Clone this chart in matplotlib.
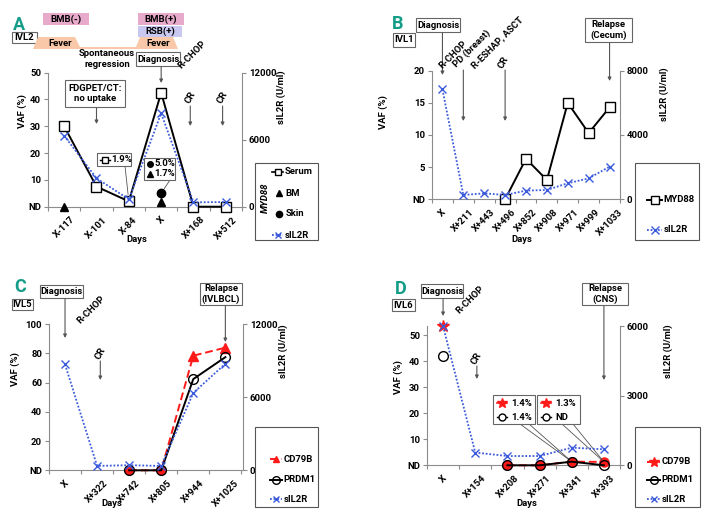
import numpy as np
import matplotlib
matplotlib.use('Agg')
import matplotlib.pyplot as plt
from matplotlib.transforms import Affine2D, blended_transform_factory
from matplotlib.lines import Line2D
from matplotlib.patches import Rectangle, Polygon

W, H = 707, 514
FS = 6.8
plt.rcParams['font.family'] = ['Roboto', 'DejaVu Sans']
plt.rcParams['font.weight'] = 'bold'
plt.rcParams['font.size'] = FS

nan = np.nan
# ---------------- data ----------------
# Panel A (IVL2)
a_days = ['X-117', 'X-101', 'X-84', 'X', 'X+168', 'X+512']
a_serum = [30, 7.5, 2.0, 42.5, 0, 0]
a_bm = [0, nan, nan, 1.7, nan, nan]
a_skin = [nan, nan, nan, 5.0, nan, nan]
a_sil2r = [6360, 2550, 660, 8360, 390, 420]
# Panel B (IVL1)
b_days = ['X', 'X+211', 'X+443', 'X+496', 'X+852', 'X+908', 'X+971', 'X+999', 'X+1033']
b_myd88 = [nan, nan, nan, 0, 6.3, 3.0, 15.0, 10.3, 14.3]
b_sil2r = [6840, 270, 370, 270, 540, 580, 1000, 1300, 2030]
# Panel C (IVL5)
c_days = ['X', 'X+322', 'X+742', 'X+805', 'X+944', 'X+1025']
c_cd79b = [nan, nan, 0, 0, 78.5, 84]
c_prdm1 = [nan, nan, 0, 0, 62.5, 77.5]
c_sil2r = [8700, 360, 420, 360, 6360, 8760]
# Panel D (IVL6)
d_days = ['X', 'X+154', 'X+208', 'X+271', 'X+341', 'X+393']
d_cd79b = [53.5, nan, 0, 0, 1.4, 1.3]
d_prdm1 = [42, nan, 0, 0, 1.4, 0]
d_sil2r = [6000, 550, 400, 400, 760, 690]

# ---------------- styles ----------------
BLUE = '#3b5bdb'
RED = '#ff1a1a'
GRAY = '#8c8c8c'
TEAL = '#149c88'
S_BLACK = dict(color='k', lw=1.4, marker='s', ms=7, mfc='white', mec='k', mew=1.0)
S_BM = dict(color='k', ls='none', marker='^', ms=6)
S_SKIN = dict(color='k', ls='none', marker='o', ms=6)
S_SIL = dict(color=BLUE, lw=1.3, ls=(0, (1, 1)), marker='x', ms=6, mew=1.0)
S_PRDM = dict(color='k', lw=1.4, marker='o', ms=7, mfc='none', mec='k', mew=1.0)
S_CD = dict(color=RED, lw=1.4, ls=(0, (4, 2)))

fig = plt.figure(figsize=(W / 100, H / 100), dpi=100)
pix = Affine2D().scale(1 / W, -1 / H).translate(0, 1) + fig.transFigure


def axes_px(x0, y0, x1, y1):
    return fig.add_axes([x0 / W, 1 - y1 / H, (x1 - x0) / W, (y1 - y0) / H])


def ftxt(x, y, s, **kw):
    kw.setdefault('ha', 'center')
    kw.setdefault('va', 'center')
    kw.setdefault('fontweight', 'bold')
    return fig.text(x, y, s, transform=pix, **kw)


def frect(x0, y0, x1, y1, fc='white', ec='#666666', lw=0.8):
    r = Rectangle((x0, y0), x1 - x0, y1 - y0, transform=pix, fc=fc, ec=ec, lw=lw)
    fig.add_artist(r)
    return r


def fbox(x0, y0, x1, y1, s, **kw):
    frect(x0, y0, x1, y1)
    ftxt((x0 + x1) / 2, (y0 + y1) / 2, s, linespacing=1.2, **kw)


def farrow(ax, cat, y0, y1):
    tr = blended_transform_factory(ax.transData, pix)
    ax.annotate('', xy=(cat, y1), xycoords=tr, xytext=(cat, y0), textcoords=tr,
                arrowprops=dict(arrowstyle='-|>', color='#555555', lw=0.8,
                                mutation_scale=5, shrinkA=0, shrinkB=0),
                annotation_clip=False)


def fmarker(x, y, style, hl=10):
    st = dict(style)
    if st.get('ls', '-') != 'none':
        fig.add_artist(Line2D([x - hl / 2, x + hl / 2], [y, y], transform=pix,
                              color=st['color'], lw=st.get('lw', 1), ls=st.get('ls', '-')))
    mk = dict(marker=st.get('marker', 'o'), ms=st.get('ms', 6), mew=st.get('mew', 1),
              mfc=st.get('mfc', st['color']), mec=st.get('mec', st['color']))
    fig.add_artist(Line2D([x], [y], transform=pix, ls='none', color=st['color'], **mk))


def leg_entry(x, y, style, label, hl=12):
    fmarker(x + hl / 2, y, style, hl=hl)
    ftxt(x + hl + 1.5, y, label, ha='left')


def connector(ax, px, py, cat, val, shrinkB=4):
    ax.annotate('', xy=(cat, val), xycoords='data', xytext=(px, py), textcoords=pix,
                arrowprops=dict(arrowstyle='-', color='#555555', lw=0.6,
                                shrinkA=0, shrinkB=shrinkB),
                annotation_clip=False)


def setup(ax, days, xlim, ylim, yticks, rlim, rticks):
    ax2 = ax.twinx()
    n = len(days)
    for a in (ax, ax2):
        for s in a.spines.values():
            s.set_visible(False)
        a.set_facecolor('none')
    ax.spines['left'].set_visible(True)
    ax.spines['bottom'].set_visible(True)
    ax2.spines['right'].set_visible(True)
    for s in (ax.spines['left'], ax.spines['bottom'], ax2.spines['right']):
        s.set_color(GRAY)
        s.set_linewidth(0.8)
    ax.set_xlim(*xlim)
    ax.set_ylim(*ylim)
    ax2.set_ylim(*rlim)
    ax.set_yticks(yticks)
    ax.set_yticklabels(['ND'] + [str(v) for v in yticks[1:]], fontweight='bold')
    ax2.set_yticks(rticks)
    ax2.set_yticklabels([str(v) for v in rticks], fontweight='bold')
    ax.set_xticks(range(n))
    ax.set_xticklabels(days, rotation=45, ha='center', fontweight='bold')
    ax.set_xticks(np.arange(n + 1) - 0.5, minor=True)
    ax.tick_params(axis='x', which='major', length=0, pad=6, labelsize=FS)
    ax.tick_params(axis='x', which='minor', length=3, color=GRAY, width=0.8, direction='out')
    ax.tick_params(axis='y', length=3, color=GRAY, width=0.8, direction='out', pad=2, labelsize=FS)
    ax2.tick_params(axis='y', length=3, color=GRAY, width=0.8, direction='out', pad=2, labelsize=FS)
    return ax2


# ================= Panel A =================
axA = axes_px(48, 72.7, 242, 206.7)
axA2 = setup(axA, a_days, (-0.5, 5.5), (0, 50), [0, 10, 20, 30, 40, 50], (0, 12000), [0, 6000, 12000])
xa = np.arange(len(a_days))
axA.plot(xa, a_serum, clip_on=False, zorder=3, **S_BLACK)
axA.plot(xa, a_bm, clip_on=False, zorder=4, **S_BM)
axA.plot(xa, a_skin, clip_on=False, zorder=4, **S_SKIN)
axA2.plot(xa, a_sil2r, clip_on=False, **S_SIL)

ftxt(18.5, 24.5, 'A', color=TEAL, fontsize=13)
fbox(12, 32, 37, 43, 'IVL2')
frect(43, 13, 89, 25, fc='#e8aacb', ec='none')
ftxt(66, 19, 'BMB(-)')
frect(138, 13, 184, 25, fc='#e8aacb', ec='none')
ftxt(161, 19, 'BMB(+)')
frect(138, 26, 182, 37, fc='#c9c8f0', ec='none')
ftxt(160, 31.5, 'RSB(+)')
fig.add_artist(Polygon([(33, 49), (38, 37), (75, 37), (80, 47), (136, 47), (140, 37),
                        (173, 37), (178, 49)], closed=True, transform=pix,
                       fc='#f8c8a8', ec='none'))
ftxt(60, 44, 'Fever')
ftxt(158, 44, 'Fever')
ftxt(107, 59, 'Spontaneous\nregression', linespacing=1.25)
fbox(136, 52, 180, 66, 'Diagnosis')
farrow(axA, 3, 66, 83)
ftxt(192, 55, 'R-CHOP', rotation=45)
fbox(65, 80, 125, 107, 'FDGPET/CT:\nno uptake')
farrow(axA, 1, 107, 124)
for c in (4, 5):
    tr = blended_transform_factory(axA.transData, pix)
    axA.text(c - 0.1, 97, 'CR', rotation=60, ha='center', va='center', transform=tr,
             fontweight='bold')
    farrow(axA, c - 0.1, 106, 126)
# callouts
frect(97, 153, 131, 166)
fmarker(105, 159.5, dict(S_BLACK, ms=4, lw=1.0), hl=10)
ftxt(111, 159.5, '1.9%', ha='left')
connector(axA, 125, 166, 2, a_serum[2], shrinkB=5)
frect(144, 158, 175, 180)
fmarker(150, 164, dict(S_SKIN, ms=4))
ftxt(154, 164, '5.0%', ha='left')
fmarker(150, 174, dict(S_BM, ms=4))
ftxt(154, 174, '1.7%', ha='left')
connector(axA, 170, 180, 3, a_skin[3], shrinkB=4)
ftxt(22, 111, 'VAF (%)', rotation=90)
ftxt(281, 97, 'sIL2R (U/ml)', rotation=90)
ftxt(137, 239, 'Days')
frect(255, 163, 318, 240, ec='#555555')
ftxt(265, 198, 'MYD88', rotation=90, style='italic')
leg_entry(272, 172, dict(S_BLACK, ms=4.5, lw=1.2), 'Serum', hl=11)
leg_entry(273, 193, dict(S_BM, ms=4.5), 'BM', hl=11)
leg_entry(273, 214, dict(S_SKIN, ms=4.5), 'Skin', hl=11)
leg_entry(272, 235, dict(S_SIL, ms=4.5), 'sIL2R', hl=11)

# ================= Panel B =================
axB = axes_px(432, 70.7, 620, 199.3)
axB2 = setup(axB, b_days, (-0.25, 8.5), (0, 20), [0, 5, 10, 15, 20], (0, 8000), [0, 4000, 8000])
xb = np.arange(len(b_days))
axB.plot(xb, b_myd88, clip_on=False, zorder=3, **S_BLACK)
axB2.plot(xb, b_sil2r, clip_on=False, **S_SIL)

ftxt(397.5, 24, 'B', color=TEAL, fontsize=13)
fbox(393, 33, 415, 47, 'IVL1')
fbox(416, 18, 460, 32, 'Diagnosis')
farrow(axB, 0, 32, 75)
ftxt(453, 55, 'R-CHOP', rotation=45)
ftxt(472, 49, 'PD (breast)', rotation=45)
farrow(axB, 1, 70, 121)
ftxt(497, 43, 'R-ESHAP, ASCT', rotation=45)
ftxt(504, 62, 'CR', rotation=60)
farrow(axB, 3, 70, 121)
fbox(585, 18, 632, 42, 'Relapse\n(Cecum)')
farrow(axB, 8, 42, 81)
ftxt(383, 112, 'VAF (%)', rotation=90)
ftxt(664, 94, 'sIL2R (U/ml)', rotation=90)
ftxt(522, 240, 'Days')
frect(635, 163, 699, 240, ec='#555555')
leg_entry(647, 200, dict(S_BLACK, ms=5.5), 'MYD88', hl=15)
leg_entry(647, 230, dict(S_SIL, ms=5.5), 'sIL2R', hl=15)

# ================= Panel C =================
axC = axes_px(49, 324.3, 243, 470.3)
axC2 = setup(axC, c_days, (-0.4, 5.55), (0, 100), [0, 20, 40, 60, 80, 100], (0, 12000), [0, 6000, 12000])
xc = np.arange(len(c_days))
cd_c = np.array(c_cd79b, dtype=float)
axC.plot(xc, cd_c, clip_on=False, zorder=3, **S_CD)
axC.plot(xc[cd_c < 5], cd_c[cd_c < 5], ls='none', marker='o', ms=6.5, color=RED, clip_on=False, zorder=3)
axC.plot(xc[cd_c >= 5], cd_c[cd_c >= 5], ls='none', marker='^', ms=7, color=RED, clip_on=False, zorder=3)
axC.plot(xc, c_prdm1, clip_on=False, zorder=4, **S_PRDM)
axC2.plot(xc, c_sil2r, clip_on=False, **S_SIL)

ftxt(20.5, 287.5, 'C', color=TEAL, fontsize=13)
fbox(12, 299, 33, 310, 'IVL5')
fbox(40, 285, 83, 298, 'Diagnosis')
farrow(axC, 0, 298, 338)
ftxt(91.5, 310, 'R-CHOP', rotation=45)
trC = blended_transform_factory(axC.transData, pix)
axC.text(1.1, 353, 'CR', rotation=60, ha='center', va='center', transform=trC, fontweight='bold')
farrow(axC, 1.1, 361, 380)
fbox(200, 283, 242, 305, 'Relapse\n(IVLBCL)')
farrow(axC, 5, 305, 342)
ftxt(15, 369, 'VAF (%)', rotation=90)
ftxt(283, 351, 'sIL2R (U/ml)', rotation=90)
ftxt(112, 504, 'Days')
frect(255, 427, 318, 507, ec='#555555')
leg_entry(270, 459, dict(S_CD, marker='^', ms=5), 'CD79B', hl=12)
leg_entry(270, 480, dict(S_PRDM, ms=5.5), 'PRDM1', hl=12)
leg_entry(270, 499, dict(S_SIL, ms=5), 'sIL2R', hl=12)

# ================= Panel D =================
axD = axes_px(427, 326.3, 620, 465.3)
axD2 = setup(axD, d_days, (-0.5, 5.5), (0, 53.5), [0, 10, 20, 30, 40, 50], (0, 6000), [0, 3000, 6000])
xd = np.arange(len(d_days))
cd_d = np.array(d_cd79b, dtype=float)
axD.plot(xd, cd_d, clip_on=False, zorder=3, **S_CD)
axD.plot(xd[cd_d < 5], cd_d[cd_d < 5], ls='none', marker='o', ms=6.5, color=RED, clip_on=False, zorder=3)
axD.plot(xd[cd_d >= 5], cd_d[cd_d >= 5], ls='none', marker='*', ms=9, color=RED, clip_on=False, zorder=3)
axD.plot(xd, d_prdm1, clip_on=False, zorder=4, **S_PRDM)
axD2.plot(xd, d_sil2r, clip_on=False, **S_SIL)

ftxt(401, 289, 'D', color=TEAL, fontsize=13)
fbox(392, 299, 415, 311, 'IVL6')
fbox(421, 284, 463, 298, 'Diagnosis')
farrow(axD, 0, 298, 316)
ftxt(470, 300, 'R-CHOP', rotation=45)
trD = blended_transform_factory(axD.transData, pix)
axD.text(1.05, 358, 'CR', rotation=60, ha='center', va='center', transform=trD, fontweight='bold')
farrow(axD, 1.05, 366, 379)
fbox(582, 283, 628, 305, 'Relapse\n(CNS)')
farrow(axD, 5, 305, 380)
# callouts
S_STAR = dict(color=RED, lw=1.2, marker='*', ms=7)
S_CIRC = dict(color='k', lw=1.0, marker='o', ms=5, mfc='white', mec='k')
frect(493, 395, 535, 424)
fmarker(502, 403, S_STAR, hl=10)
ftxt(511, 403, '1.4%', ha='left')
fmarker(502, 417, S_CIRC, hl=10)
ftxt(511, 417, '1.4%', ha='left')
connector(axD, 520, 424, 4, d_cd79b[4], shrinkB=2)
connector(axD, 529, 424, 4, d_cd79b[4], shrinkB=2)
frect(537, 395, 580, 424)
fmarker(546, 403, S_STAR, hl=10)
ftxt(555, 403, '1.3%', ha='left')
fmarker(546, 417, S_CIRC, hl=10)
ftxt(555, 417, 'ND', ha='left')
connector(axD, 562, 424, 5, d_cd79b[5], shrinkB=2)
connector(axD, 573, 424, 5, d_cd79b[5], shrinkB=2)
ftxt(398, 377, 'VAF (%)', rotation=90)
ftxt(668, 351, 'sIL2R (U/ml)', rotation=90)
ftxt(527, 504, 'Days')
frect(635, 427, 700, 507, ec='#555555')
leg_entry(647, 462, dict(S_CD, marker='*', ms=7), 'CD79B', hl=13)
leg_entry(647, 480, dict(S_PRDM, ms=5.5), 'PRDM1', hl=13)
leg_entry(647, 499, dict(S_SIL, ms=5), 'sIL2R', hl=13)

fig.savefig('out.png', dpi=100)
